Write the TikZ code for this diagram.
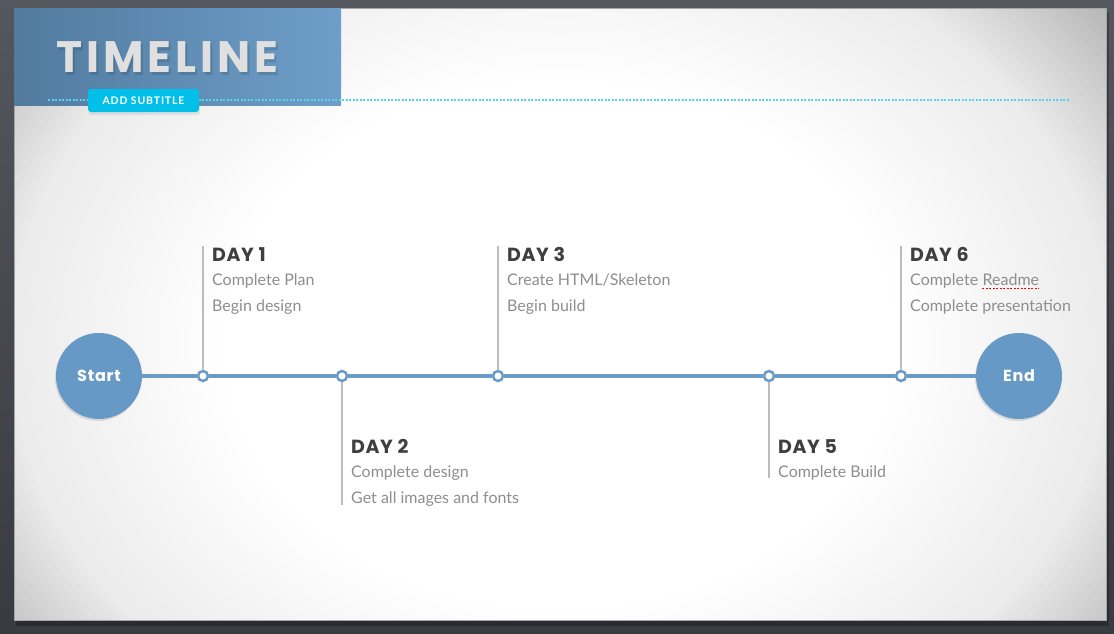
\documentclass[tikz,border=0pt]{standalone}
\usepackage{fontspec}
\setmainfont{Lato}
\newfontfamily\headfont{Poppins}
\usepackage{tikz}
\usetikzlibrary{calc,positioning,shadows}
\definecolor{framegray}{HTML}{4B4E55}
\definecolor{lineblue}{HTML}{6A9BC6}
\definecolor{circblue}{HTML}{6699C6}
\definecolor{subcyan}{HTML}{00BFE8}
\definecolor{dotcyan}{HTML}{5AD2EA}
\definecolor{daygray}{HTML}{3F3F3F}
\definecolor{txtgray}{HTML}{8E8E8E}
\definecolor{stemgray}{HTML}{BDBDBD}
\tikzset{>=stealth}
\tikzset{
    endcirc/.style={circle, fill=circblue, minimum size=86pt, inner sep=0, text=white,
        font=\headfont\bfseries\fontsize{16}{16}\selectfont\addfontfeature{LetterSpace=5},
        drop shadow={opacity=0.1, shadow xshift=-1pt, shadow yshift=-2pt, fill=black}},
    daydot/.style={circle, draw=lineblue, line width=2.5pt, fill=white, inner sep=0, minimum size=10pt},
    daytitle/.style={anchor=base west, inner sep=0, text=daygray,
        font=\headfont\bfseries\fontsize{19}{19}\selectfont\addfontfeature{LetterSpace=3}},
    daytext/.style={anchor=base west, inner sep=0, text=txtgray, font=\fontsize{16}{16}\selectfont},
    stem/.style={stemgray, line width=1.5pt},
    glow/.style={black, even odd rule}
}

\begin{document}
\begin{tikzpicture}[x=1pt, y=-1pt]
    \useasboundingbox (0,0) rectangle (1114,633);
    \shade[top color=framegray!95!white, bottom color=framegray!75!black] (0,0) rectangle (1114,633);

    % slide
    \fill[black, opacity=0.25] (16,12) rectangle (1109,626);
    \fill[white] (14,8) rectangle (1106,620);
    \begin{scope}
        \clip (14,8) rectangle (1106,620);
        \foreach \s in {0.62,0.64,...,1.0}
            \fill[glow, opacity=0.0035] (0,0) rectangle (1114,633) (560,345) ellipse ({546pt*\s} and {430pt*\s});
        \foreach \s in {1.01,1.025,...,1.32}
            \fill[glow, opacity=0.013] (0,0) rectangle (1114,633) (560,345) ellipse ({546pt*\s} and {430pt*\s});
    \end{scope}
    \draw[gray!70] (14,8) rectangle (1106,620);

    % title block
    \shade[left color=black!20!circblue, right color=circblue!95!white] (14,8) rectangle (341,105);
    \node[anchor=base west, inner sep=0, text=black, opacity=0.12,
        font=\headfont\bfseries\fontsize{44}{44}\selectfont\addfontfeature{LetterSpace=9}] at (58,75) {TIMELINE};
    \node[anchor=base west, inner sep=0, text=black!12,
        font=\headfont\bfseries\fontsize{44}{44}\selectfont\addfontfeature{LetterSpace=9}] (title) at (56,72) {TIMELINE};

    \coordinate (rulestart) at (48,100);
    \coordinate (ruleend) at (1070,100);
    \draw[dotcyan, line width=2pt, dash pattern=on 2pt off 1.5pt] (rulestart) -- (ruleend);
    \node[fill=subcyan, rounded corners=3pt, minimum width=111pt, minimum height=23pt, inner sep=0,
        text=white, font=\bfseries\fontsize{10.5}{10.5}\selectfont\addfontfeature{LetterSpace=8},
        drop shadow={opacity=0.15, shadow xshift=1pt, shadow yshift=-3pt}] (subtitle) at (143.5,100.5) {ADD SUBTITLE};

    % timeline
    \node[endcirc] (start) at (99,376) {Start};
    \node[endcirc] (end) at (1019,376) {End};
    \node[daydot] (d1) at (203,376) {};
    \node[daydot] (d2) at (342,376) {};
    \node[daydot] (d3) at (498,376) {};
    \node[daydot] (d5) at (769,376) {};
    \node[daydot] (d6) at (901,376) {};
    \draw[lineblue, line width=4pt] (start) -- (d1) -- (d2) -- (d3) -- (d5) -- (d6) -- (end);

    \coordinate (t1) at (203,246);
    \coordinate (t2) at (342,505);
    \coordinate (t3) at (498,246);
    \coordinate (t5) at (769,478);
    \coordinate (t6) at (901,246);
    \draw[stem] (d1) -- (t1);
    \draw[stem] (d2) -- (t2);
    \draw[stem] (d3) -- (t3);
    \draw[stem] (d5) -- (t5);
    \draw[stem] (d6) -- (t6);

    \node[daytitle] (day1) at (212,261) {DAY 1};
    \node[daytext] (a1) at (212,285) {Complete Plan};
    \node[daytext] (b1) at (212,311) {Begin design};

    \node[daytitle] (day2) at (351,453) {DAY 2};
    \node[daytext] (a2) at (351,477) {Complete design};
    \node[daytext] (b2) at (351,503) {Get all images and fonts};

    \node[daytitle] (day3) at (507,261) {DAY 3};
    \node[daytext] (a3) at (507,285) {Create HTML/Skeleton};
    \node[daytext] (b3) at (507,311) {Begin build};

    \node[daytitle] (day5) at (778,453) {DAY 5};
    \node[daytext] (a5) at (778,477) {Complete Build};

    \node[daytitle] (day6) at (910,261) {DAY 6};
    \node[daytext] (a6) at (910,285) {Complete};
    \node[daytext, right=4pt of a6.base east, anchor=base west] (r6) {Readme};
    \node[daytext] (b6) at (910,311) {Complete presentation};
    \draw[red, line width=0.8pt, dash pattern=on 2pt off 1.5pt] ($(r6.base west)+(0,3)$) -- ($(r6.base east)+(0,3)$);
\end{tikzpicture}
\end{document}
